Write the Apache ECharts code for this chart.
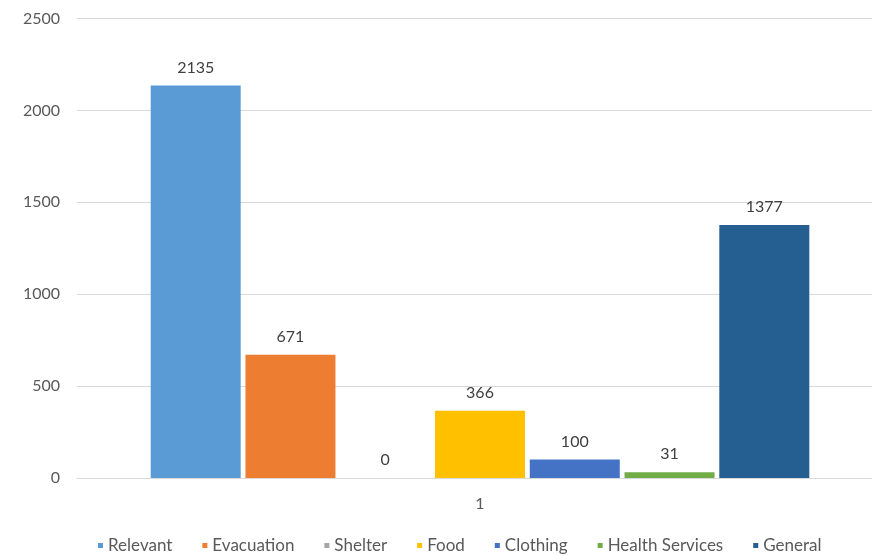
<!DOCTYPE html>
<html>
<head>
<meta charset="utf-8">
<script src="https://cdn.jsdelivr.net/npm/echarts@6/dist/echarts.min.js"></script>
<style>html,body{margin:0;padding:0;background:#fff}#c{width:872px;height:555px}</style>
</head>
<body>
<div id="c"></div>
<script>
const categories = ['1'];
const seriesNames = ['Relevant', 'Evacuation', 'Shelter', 'Food', 'Clothing', 'Health Services', 'General'];
const seriesValues = [2135, 671, 0, 366, 100, 31, 1377];
const seriesColors = ['#5B9BD5', '#ED7D31', '#A5A5A5', '#FFC000', '#4472C4', '#70AD47', '#255E91'];
const yTicks = [0, 500, 1000, 1500, 2000, 2500];

const FONT = 'Lato, "Open Sans", sans-serif';
const chart = echarts.init(document.getElementById('c'), null, {renderer: 'canvas'});
chart.setOption({
  animation: false,
  backgroundColor: '#fff',
  color: seriesColors,
  grid: {left: 77, right: -11, top: 18.5, bottom: 77, containLabel: false, outerBoundsMode: 'none'},
  legend: {
    top: 537,
    left: 98,
    padding: [0, 0, 0, 0],
    icon: 'rect',
    itemWidth: 5,
    itemHeight: 5,
    itemGap: 30,
    textStyle: {color: '#595959', fontSize: 17, fontFamily: FONT},
    data: seriesNames
  },
  xAxis: {
    type: 'category',
    data: categories,
    axisLine: {lineStyle: {color: '#d9d9d9', width: 1}},
    axisTick: {show: false},
    axisLabel: {color: '#595959', fontSize: 16, fontFamily: FONT, margin: 18}
  },
  yAxis: {
    type: 'value',
    min: yTicks[0],
    max: yTicks[yTicks.length - 1],
    interval: 500,
    axisLine: {show: false},
    axisTick: {show: false},
    splitLine: {lineStyle: {color: '#d9d9d9', width: 1}},
    axisLabel: {color: '#595959', fontSize: 16, fontFamily: FONT, margin: 17, formatter: v => String(v)}
  },
  series: seriesNames.map((name, i) => ({
    name: name,
    type: 'bar',
    data: [seriesValues[i]],
    barWidth: 90,
    barGap: '5.3%',
    itemStyle: {color: seriesColors[i]},
    label: {
      show: true,
      position: 'top',
      distance: 10,
      color: '#404040',
      fontSize: 16,
      fontFamily: FONT
    }
  }))
});
</script>
</body>
</html>
